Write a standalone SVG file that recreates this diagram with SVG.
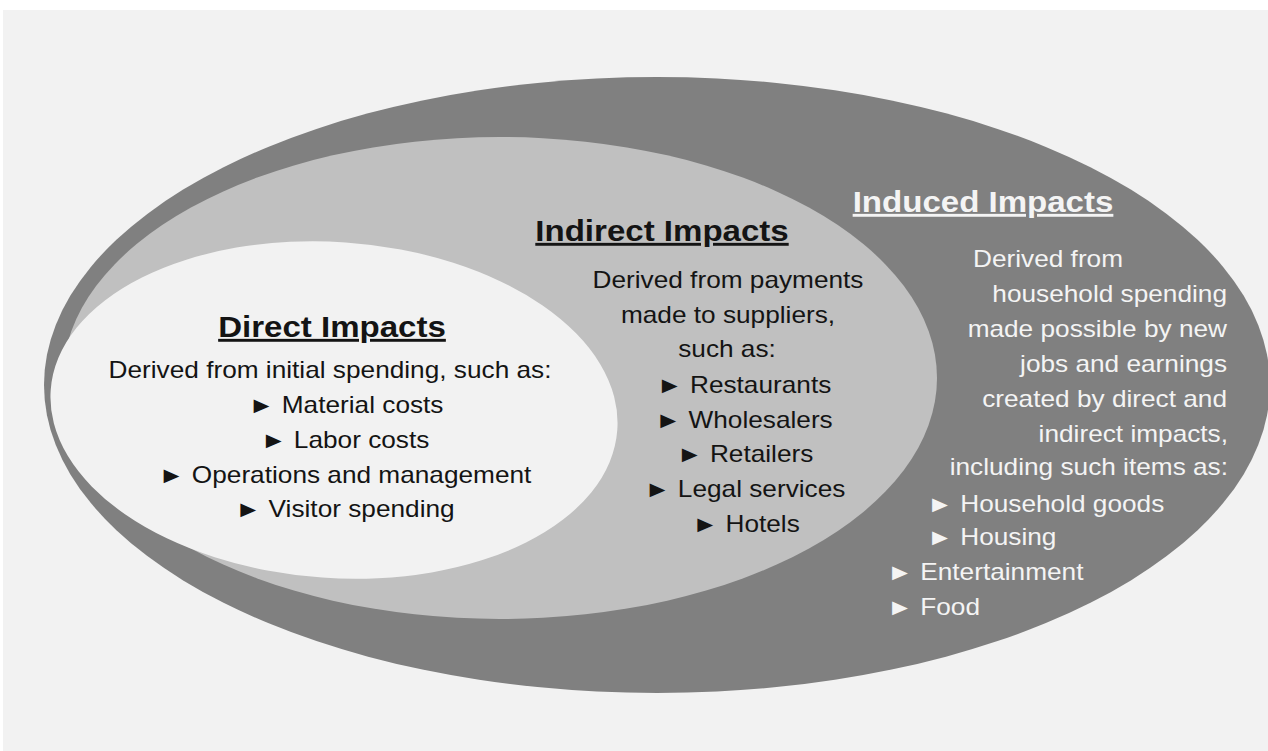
<svg xmlns="http://www.w3.org/2000/svg" width="1268" height="751" viewBox="0 0 1268 751">
  <style>
    .h { font-family: "Liberation Sans", Arial, sans-serif; font-weight: bold; font-size: 29px; text-decoration: underline; }
    .b { font-family: "Liberation Sans", Arial, sans-serif; font-size: 23px; }
    .dk { fill: #141414; }
    .lt { fill: #f4f4f4; }
    .m { text-anchor: middle; }
    .e { text-anchor: end; }
    .s { text-anchor: start; }
  </style>
  <rect x="0" y="0" width="1268" height="751" fill="#ffffff"/>
  <rect x="3" y="10" width="1265" height="741" fill="#f2f2f2"/>

  <g id="induced">
    <ellipse cx="657" cy="385" rx="613" ry="308" fill="#808080"/>
  </g>
  <g id="indirect">
    <ellipse cx="500" cy="378" rx="437" ry="241" fill="#c0c0c0"/>
  </g>
  <g id="direct">
    <ellipse cx="334" cy="410" rx="284" ry="168" fill="#f2f2f2" transform="rotate(4 334 410)"/>
  </g>

  <g id="direct-text">
    <text class="h dk m" transform="translate(332,337) scale(1.14,1)">Direct Impacts</text>
    <text class="b dk m" transform="translate(330,378) scale(1.14,1)">Derived from initial spending, such as:</text>
    <text class="b dk m" transform="translate(346,413) scale(1.14,1)">► Material costs</text>
    <text class="b dk m" transform="translate(345,448) scale(1.14,1)">► Labor costs</text>
    <text class="b dk m" transform="translate(345,483) scale(1.14,1)">► Operations and management</text>
    <text class="b dk m" transform="translate(345,517) scale(1.14,1)">► Visitor spending</text>
  </g>

  <g id="indirect-text">
    <text class="h dk m" transform="translate(662,241) scale(1.14,1)">Indirect Impacts</text>
    <text class="b dk m" transform="translate(728,288) scale(1.14,1)">Derived from payments</text>
    <text class="b dk m" transform="translate(728,323) scale(1.14,1)">made to suppliers,</text>
    <text class="b dk m" transform="translate(727,357) scale(1.14,1)">such as:</text>
    <text class="b dk m" transform="translate(744,393) scale(1.14,1)">► Restaurants</text>
    <text class="b dk m" transform="translate(744,428) scale(1.14,1)">► Wholesalers</text>
    <text class="b dk m" transform="translate(745,462) scale(1.14,1)">► Retailers</text>
    <text class="b dk m" transform="translate(745,497) scale(1.14,1)">► Legal services</text>
    <text class="b dk m" transform="translate(746,532) scale(1.14,1)">► Hotels</text>
  </g>

  <g id="induced-text">
    <text class="h lt m" transform="translate(983,212) scale(1.14,1)">Induced Impacts</text>
    <text class="b lt s" transform="translate(973,267) scale(1.14,1)">Derived from</text>
    <text class="b lt e" transform="translate(1227,302) scale(1.14,1)">household spending</text>
    <text class="b lt e" transform="translate(1227,337) scale(1.14,1)">made possible by new</text>
    <text class="b lt e" transform="translate(1227,372) scale(1.14,1)">jobs and earnings</text>
    <text class="b lt e" transform="translate(1227,407) scale(1.14,1)">created by direct and</text>
    <text class="b lt e" transform="translate(1228,442) scale(1.14,1)">indirect impacts,</text>
    <text class="b lt e" transform="translate(1228,475) scale(1.14,1)">including such items as:</text>
    <text class="b lt s" transform="translate(927,512) scale(1.14,1)">► Household goods</text>
    <text class="b lt s" transform="translate(927,545) scale(1.14,1)">► Housing</text>
    <text class="b lt s" transform="translate(887,580) scale(1.14,1)">► Entertainment</text>
    <text class="b lt s" transform="translate(887,615) scale(1.14,1)">► Food</text>
  </g>

  <g id="connectors"/>
</svg>
